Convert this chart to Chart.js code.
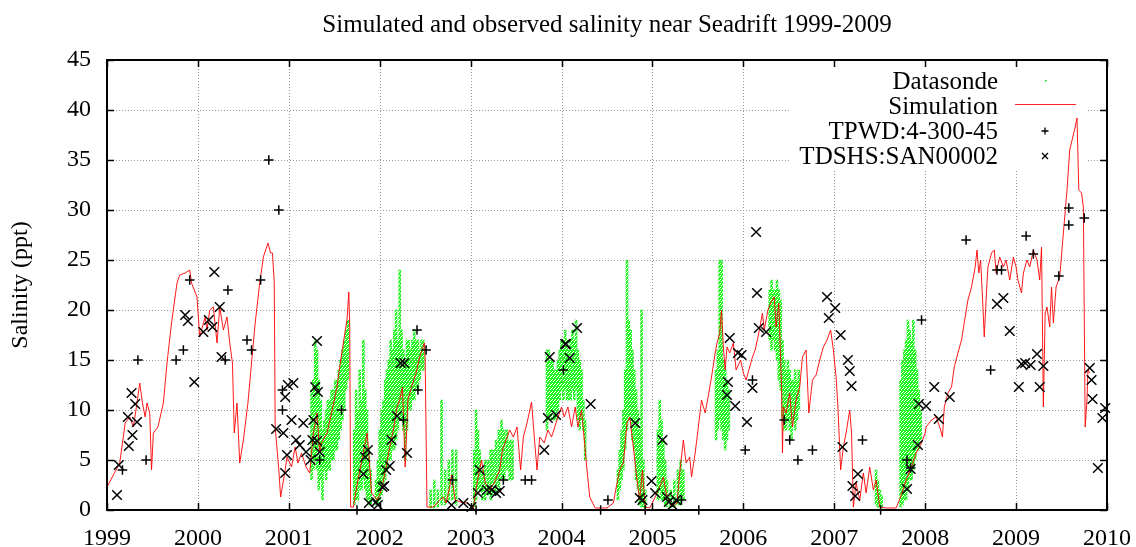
<!DOCTYPE html>
<html>
<head>
<meta charset="utf-8">
<script src="https://cdn.jsdelivr.net/npm/chart.js@4.4.1/dist/chart.umd.min.js"></script>
<style>
  html, body { margin: 0; padding: 0; background: #fff; }
  #wrap { width: 1136px; height: 547px; }
</style>
</head>
<body>
<div id="wrap"><canvas id="c" width="1136" height="547"></canvas></div>
<script>
// ---- Salinity near Seadrift, 1999-2009 (ppt) ----

const yearTicks = [1999, 2000, 2001, 2002, 2003, 2004, 2005, 2006, 2007, 2008, 2009, 2010];
const salinityTicks = [0, 5, 10, 15, 20, 25, 30, 35, 40, 45];

// Model output (decimal year, salinity)
const simYear = [
  1999.00, 1999.07, 1999.14, 1999.20, 1999.25, 1999.29, 1999.33, 1999.36, 1999.39, 1999.42,
  1999.44, 1999.47, 1999.49, 1999.51, 1999.56, 1999.62, 1999.66, 1999.71, 1999.77, 1999.80,
  1999.86, 1999.91, 1999.93, 1999.99, 2000.02, 2000.04, 2000.08, 2000.10, 2000.13, 2000.17,
  2000.21, 2000.24, 2000.28, 2000.32, 2000.35, 2000.38, 2000.40, 2000.43, 2000.46, 2000.50,
  2000.55, 2000.59, 2000.63, 2000.68, 2000.72, 2000.77, 2000.80, 2000.82, 2000.84, 2000.85,
  2000.89, 2000.91, 2000.96, 2000.98, 2001.03, 2001.07, 2001.10, 2001.14, 2001.19, 2001.23,
  2001.27, 2001.31, 2001.34, 2001.36, 2001.42, 2001.47, 2001.53, 2001.56, 2001.60, 2001.64,
  2001.66, 2001.67, 2001.68, 2001.71, 2001.76, 2001.82, 2001.86, 2001.88, 2001.91, 2001.97,
  2002.02, 2002.07, 2002.11, 2002.15, 2002.19, 2002.22, 2002.25, 2002.28, 2002.31, 2002.35,
  2002.40, 2002.44, 2002.49, 2002.50, 2002.52, 2002.59, 2002.66, 2002.70, 2002.73, 2002.77,
  2002.79, 2002.83, 2002.92, 2002.97, 2003.03, 2003.07, 2003.12, 2003.16, 2003.21, 2003.26,
  2003.32, 2003.35, 2003.39, 2003.43, 2003.47, 2003.51, 2003.55, 2003.58, 2003.62, 2003.67,
  2003.70, 2003.73, 2003.76, 2003.81, 2003.85, 2003.89, 2003.95, 2004.00, 2004.03, 2004.07,
  2004.11, 2004.15, 2004.18, 2004.22, 2004.24, 2004.28, 2004.31, 2004.37, 2004.50, 2004.57,
  2004.61, 2004.64, 2004.68, 2004.72, 2004.75, 2004.79, 2004.83, 2004.86, 2004.89, 2004.92,
  2004.97, 2005.03, 2005.08, 2005.12, 2005.15, 2005.21, 2005.27, 2005.30, 2005.34, 2005.37,
  2005.41, 2005.43, 2005.47, 2005.51, 2005.54, 2005.58, 2005.62, 2005.65, 2005.69, 2005.71,
  2005.74, 2005.76, 2005.78, 2005.80, 2005.82, 2005.85, 2005.89, 2005.92, 2005.97, 2006.00,
  2006.03, 2006.06, 2006.10, 2006.13, 2006.17, 2006.21, 2006.23, 2006.27, 2006.30, 2006.34,
  2006.36, 2006.39, 2006.42, 2006.43, 2006.44, 2006.47, 2006.51, 2006.54, 2006.58, 2006.62,
  2006.65, 2006.69, 2006.72, 2006.76, 2006.80, 2006.84, 2006.88, 2006.92, 2006.96, 2006.99,
  2007.02, 2007.04, 2007.07, 2007.10, 2007.13, 2007.17, 2007.19, 2007.21, 2007.24, 2007.28,
  2007.32, 2007.35, 2007.39, 2007.43, 2007.46, 2007.50, 2007.57, 2007.68, 2007.73, 2007.79,
  2007.85, 2007.90, 2007.96, 2008.00, 2008.01, 2008.07, 2008.12, 2008.16, 2008.19, 2008.21,
  2008.25, 2008.29, 2008.32, 2008.36, 2008.40, 2008.44, 2008.47, 2008.51, 2008.55, 2008.57,
  2008.59, 2008.61, 2008.63, 2008.65, 2008.67, 2008.69, 2008.73, 2008.76, 2008.78, 2008.82,
  2008.86, 2008.89, 2008.93, 2008.97, 2009.00, 2009.02, 2009.06, 2009.08, 2009.12, 2009.15,
  2009.19, 2009.23, 2009.26, 2009.28, 2009.30, 2009.32, 2009.34, 2009.37, 2009.39, 2009.41,
  2009.44, 2009.48, 2009.52, 2009.56, 2009.59, 2009.65, 2009.67, 2009.69, 2009.72, 2009.74,
  2009.76, 2009.78, 2009.79, 2009.81
];
const simSalinity = [
  2.3, 3.5, 4.7, 8.7, 9.3, 8.3, 10.7, 12.7, 10.7, 9.3,
  10.7, 9.7, 4.0, 7.7, 8.3, 10.7, 14.7, 18.7, 22.7, 23.5,
  23.7, 24.0, 22.7, 21.3, 17.3, 18.0, 19.3, 18.0, 20.0, 20.3,
  16.7, 20.3, 18.0, 19.3, 16.7, 14.7, 7.7, 10.7, 4.7, 7.0,
  10.7, 14.7, 18.7, 22.7, 25.3, 26.7, 25.7, 25.7, 22.7, 8.3,
  4.0, 1.3, 4.0, 5.3, 4.3, 6.3, 4.7, 5.7, 4.3, 3.7,
  7.7, 9.7, 5.7, 6.7, 7.7, 9.7, 12.3, 14.3, 16.7, 19.0,
  21.8, 18.3, 0.3, 0.3, 3.0, 5.7, 7.7, 5.7, 1.7, 1.0,
  2.0, 4.3, 6.3, 8.0, 10.3, 11.0, 12.3, 4.3, 11.0, 12.3,
  13.7, 15.3, 16.7, 15.0, 0.3, 0.3, 1.0, 1.3, 0.7, 2.3,
  3.5, 1.0, 0.7, 0.7, 0.2, 2.7, 5.0, 2.7, 2.0, 2.7,
  4.0, 6.0, 7.0, 8.0, 7.3, 8.3, 4.0, 7.3, 8.7, 10.8,
  7.3, 4.0, 7.3, 6.7, 8.0, 7.3, 9.0, 10.3, 9.3, 10.3,
  8.3, 10.3, 8.3, 10.0, 8.0, 4.0, 1.3, 0.2, 0.2, 0.7,
  2.7, 4.0, 4.7, 8.7, 9.3, 6.3, 3.0, 1.0, 4.0, 0.3,
  0.2, 1.3, 2.3, 3.3, 1.7, 0.3, 0.7, 3.7, 7.0, 4.7,
  5.3, 3.3, 5.7, 8.7, 11.0, 9.7, 11.7, 13.3, 15.7, 16.7,
  17.7, 20.0, 16.3, 14.0, 16.3, 15.7, 16.7, 14.0, 15.0, 13.7,
  13.0, 14.0, 15.3, 16.0, 17.7, 19.7, 18.0, 20.0, 20.7, 21.3,
  18.3, 20.7, 12.3, 5.7, 10.3, 9.7, 11.7, 8.3, 11.0, 12.3,
  15.3, 16.0, 9.7, 13.0, 13.5, 15.0, 16.3, 17.0, 18.0, 16.0,
  13.3, 10.3, 4.0, 6.3, 7.7, 10.0, 7.7, 0.3, 2.7, 1.0,
  3.7, 1.7, 4.3, 2.0, 3.0, 0.3, 0.2, 0.2, 1.3, 3.0,
  4.3, 5.7, 6.7, 7.7, 8.3, 9.0, 9.3, 8.3, 7.3, 10.3,
  11.7, 12.3, 14.3, 15.7, 17.0, 19.3, 21.0, 22.3, 24.3, 26.0,
  23.7, 25.0, 21.3, 17.3, 21.0, 24.3, 25.7, 26.0, 23.7, 25.3,
  24.3, 25.0, 23.0, 25.3, 24.3, 23.0, 21.7, 23.7, 25.0, 24.3,
  26.0, 25.0, 23.0, 26.3, 10.3, 19.7, 20.3, 18.3, 22.3, 18.7,
  22.3, 23.3, 27.7, 32.0, 36.0, 38.3, 39.2, 32.0, 31.7, 30.3,
  8.3, 11.0, 14.0, 13.7
];

// Datasonde readings: spread of the logged values in each short interval
const sondeYear = [
  2001.25, 2001.27, 2001.29, 2001.31, 2001.33, 2001.35, 2001.37, 2001.39, 2001.41, 2001.43,
  2001.45, 2001.47, 2001.49, 2001.51, 2001.53, 2001.55, 2001.57, 2001.59, 2001.61, 2001.63,
  2001.65, 2001.72, 2001.74, 2001.76, 2001.78, 2001.80, 2001.82, 2001.84, 2001.86, 2001.88,
  2001.90, 2001.96, 2001.98, 2002.00, 2002.02, 2002.04, 2002.06, 2002.08, 2002.10, 2002.12,
  2002.14, 2002.16, 2002.18, 2002.20, 2002.22, 2002.24, 2002.26, 2002.28, 2002.30, 2002.32,
  2002.34, 2002.36, 2002.38, 2002.40, 2002.42, 2002.44, 2002.46, 2002.48, 2002.56, 2002.60,
  2002.64, 2002.68, 2002.72, 2002.76, 2002.80, 2002.84, 2003.04, 2003.06, 2003.08, 2003.10,
  2003.13, 2003.16, 2003.19, 2003.22, 2003.25, 2003.28, 2003.31, 2003.34, 2003.37, 2003.40,
  2003.43, 2003.46, 2003.84, 2003.86, 2003.88, 2003.90, 2003.92, 2003.94, 2003.96, 2003.98,
  2004.00, 2004.02, 2004.04, 2004.06, 2004.08, 2004.10, 2004.12, 2004.14, 2004.16, 2004.18,
  2004.20, 2004.22, 2004.24, 2004.26, 2004.62, 2004.64, 2004.66, 2004.68, 2004.70, 2004.72,
  2004.74, 2004.76, 2004.78, 2004.80, 2004.82, 2004.84, 2004.86, 2004.88, 2004.90, 2004.92,
  2005.06, 2005.08, 2005.10, 2005.12, 2005.14, 2005.16, 2005.20, 2005.24, 2005.28, 2005.31,
  2005.34, 2005.70, 2005.72, 2005.74, 2005.76, 2005.78, 2005.80, 2005.82, 2005.84, 2006.29,
  2006.31, 2006.33, 2006.35, 2006.37, 2006.39, 2006.41, 2006.43, 2006.45, 2006.47, 2006.49,
  2006.51, 2006.53, 2006.55, 2006.57, 2006.59, 2006.61, 2007.46, 2007.48, 2007.50, 2007.52,
  2007.73, 2007.75, 2007.77, 2007.79, 2007.81, 2007.83, 2007.85, 2007.87, 2007.89, 2007.91,
  2007.93, 2007.95
];
const sondeLow = [
  3, 4, 5, 4, 2, 3, 1, 4, 3, 4,
  4, 5, 5, 6, 6, 7, 8, 9, 10, 12,
  13, 0.5, 1, 1, 2, 2, 3, 2, 1, 0.5,
  0.5, 0.5, 0.5, 1, 1.5, 2, 3, 4, 5, 5,
  6, 6, 7, 8, 9, 9, 8, 5, 8, 10,
  10, 11, 11, 12, 12, 13, 14, 14, 0.2, 0.2,
  0.3, 0.5, 0.5, 1, 1, 0.5, 0.3, 1, 2, 2,
  1, 1, 1.5, 1, 1.5, 1.5, 2, 3, 3, 4,
  3, 3, 8, 9, 9, 10, 9, 9, 10, 11,
  12, 11, 12, 11, 11, 11, 12, 11, 12, 9,
  8, 9, 8, 5, 1, 2, 3, 4, 6, 8,
  9, 9, 7, 6, 3, 2, 0.5, 0.3, 0.3, 0.2,
  1, 2, 1, 1, 0.5, 0.3, 0.2, 0.3, 0.5, 0.5,
  1, 7, 8, 9, 8, 7, 6, 7, 8, 17,
  16, 17, 16, 15, 13, 12, 9, 8, 8, 9,
  8, 7, 9, 8, 9, 10, 0.5, 0.3, 0.2, 0.2,
  0.3, 0.5, 1, 1, 2, 3, 3, 4, 5, 6,
  6, 7
];
const sondeHigh = [
  12, 13, 17, 16, 13, 11, 8, 9, 10, 11,
  11, 12, 12, 13, 13, 14, 15, 16, 17, 18,
  19, 8, 12, 10, 14, 11, 17, 12, 10, 6,
  4, 3, 5, 8, 10, 11, 13, 14, 15, 17,
  16, 18, 20, 17, 24, 18, 16, 15, 17, 17,
  16, 17, 18, 17, 17, 16, 17, 17, 2, 3,
  2, 11, 4, 5, 6, 6, 6, 10, 8, 6,
  4, 5, 5, 6, 6, 7, 8, 9, 8, 8,
  7, 7, 16, 16, 15, 15, 14, 14, 15, 16,
  17, 17, 18, 17, 16, 17, 18, 17, 19, 16,
  15, 14, 11, 9, 4, 6, 8, 10, 14, 25,
  19, 18, 16, 14, 12, 10, 8, 20, 5, 2,
  8, 11, 9, 7, 5, 3, 2, 3, 4, 5,
  4, 14, 16, 25, 25, 15, 14, 13, 12, 22,
  23, 22, 22, 23, 22, 21, 17, 15, 14, 15,
  14, 13, 13, 14, 13, 14, 4, 3, 2, 1.5,
  13, 15, 16, 17, 19, 18, 17, 19, 16, 14,
  12, 10
];

// TPWD station 4-300-45 grab samples
const tpwdYear = [
  1999.17, 1999.34, 1999.43, 1999.76, 1999.84, 1999.91, 2000.30, 2000.33, 2000.54, 2000.59,
  2000.69, 2000.78, 2000.89, 2000.93, 2000.93, 2001.34, 2001.58, 2001.75, 2002.26, 2002.41,
  2002.42, 2002.51, 2002.80, 2003.06, 2003.36, 2003.60, 2003.67, 2004.02, 2004.43, 2004.51,
  2004.92, 2005.32, 2005.51, 2006.02, 2006.10, 2006.45, 2006.51, 2006.60, 2006.76, 2007.31,
  2007.51, 2007.80, 2007.84, 2007.96, 2008.45, 2008.72, 2008.79, 2008.84, 2009.11, 2009.19,
  2009.47, 2009.58, 2009.58, 2009.75
];
const tpwdSalinity = [
  4, 15, 5, 15, 16, 23, 15, 22, 17, 16,
  23, 35, 30, 12, 10, 5, 10, 0, 9, 18,
  12, 16, 3, 0, 3, 3, 3, 14, 0, 1,
  0, 1, 0, 6, 13, 9, 7, 5, 6, 7,
  0, 5, 4.2, 19, 27, 14, 24, 24, 27.4, 25.6,
  23.4, 30.2, 28.5, 29.2
];

// TDSHS station SAN00002 samples
const tdshsYear = [
  1999.11, 1999.13, 1999.23, 1999.24, 1999.27, 1999.28, 1999.31, 1999.33, 1999.86, 1999.89,
  1999.96, 2000.06, 2000.12, 2000.16, 2000.18, 2000.24, 2000.26, 2000.86, 2000.94, 2000.96,
  2000.96, 2000.98, 2000.99, 2001.03, 2001.05, 2001.08, 2001.12, 2001.16, 2001.19, 2001.24,
  2001.26, 2001.27, 2001.29, 2001.31, 2001.31, 2001.32, 2001.34, 2001.82, 2001.84, 2001.87,
  2001.88, 2001.96, 2001.98, 2002.03, 2002.05, 2002.07, 2002.11, 2002.13, 2002.19, 2002.23,
  2002.27, 2002.30, 2002.79, 2002.92, 2003.01, 2003.08, 2003.10, 2003.18, 2003.23, 2003.28,
  2003.32, 2003.81, 2003.85, 2003.87, 2003.94, 2004.04, 2004.05, 2004.09, 2004.17, 2004.32,
  2004.81, 2004.86, 2004.89, 2004.99, 2005.03, 2005.11, 2005.16, 2005.18, 2005.22, 2005.26,
  2005.82, 2005.83, 2005.85, 2005.91, 2005.94, 2005.98, 2006.04, 2006.10, 2006.14, 2006.15,
  2006.17, 2006.25, 2006.92, 2006.94, 2007.01, 2007.07, 2007.09, 2007.15, 2007.17, 2007.19,
  2007.20, 2007.23, 2007.26, 2007.80, 2007.84, 2007.92, 2007.93, 2008.01, 2008.10, 2008.15,
  2008.27, 2008.79, 2008.86, 2008.93, 2009.03, 2009.06, 2009.10, 2009.16, 2009.23, 2009.26,
  2009.30, 2009.81, 2009.83, 2009.84, 2009.90, 2009.95, 2009.98
];
const tdshsSalinity = [
  1.5, 4.5, 9.3, 6.4, 11.7, 7.5, 10.6, 8.8, 19.5, 18.9,
  12.8, 17.8, 19.0, 18.3, 23.8, 20.3, 15.3, 8.1, 7.7, 11.3,
  3.7, 5.5, 12.5, 9.0, 12.7, 7.0, 6.5, 8.7, 5.8, 5.0,
  7.0, 9.0, 12.3, 16.9, 6.9, 11.8, 5.8, 3.6, 5.3, 6.0,
  0.7, 0.8, 0.5, 2.3, 2.4, 4.0, 4.4, 7.0, 9.4, 14.7,
  14.7, 5.7, 0.5, 0.7, 0.3, 1.7, 4.0, 2.0, 2.0, 1.7,
  1.9, 6.0, 9.2, 15.3, 9.5, 16.6, 16.6, 15.2, 18.2, 10.6,
  8.7, 1.2, 1.0, 2.9, 1.7, 7.0, 1.3, 0.8, 0.5, 1.0,
  11.5, 12.8, 17.2, 10.4, 15.7, 15.5, 8.8, 12.2, 27.8, 21.7,
  18.2, 17.8, 21.3, 19.2, 20.2, 17.5, 6.3, 15.0, 13.9, 12.4,
  2.4, 1.4, 3.6, 2.1, 4.1, 6.5, 10.6, 10.4, 12.3, 9.1,
  11.3, 20.6, 21.2, 17.9, 12.3, 14.6, 14.7, 14.5, 15.6, 12.3,
  14.4, 14.2, 13.0, 11.1, 4.2, 9.2, 10.2
];

const SERIF = "'Liberation Serif', 'DejaVu Serif', serif";
const pairs = (xs, ys) => xs.map((x, i) => ({ x, y: ys[i] }));

// Region of the key, kept clear of grid lines
const KEY = { left: 790, top: 61, right: 1088, bottom: 170 };

// Speckled green fill for the datasonde point clouds
function speckle() {
  const t = document.createElement('canvas');
  t.width = 3; t.height = 4;
  const g = t.getContext('2d');
  g.fillStyle = '#22f522';
  [[0, 0], [1, 0], [2, 1], [0, 1], [0, 2], [1, 2], [2, 2], [1, 3], [2, 3]].forEach(([x, y]) => g.fillRect(x, y, 1, 1));
  return g.createPattern(t, 'repeat');
}

const gnuplotFrame = {
  id: 'gnuplotFrame',
  beforeDatasetsDraw(chart) {
    const { ctx, chartArea: a, scales } = chart;
    const sx = scales.x, sy = scales.y;
    ctx.save();
    // dotted grid
    ctx.strokeStyle = '#9a9a9a';
    ctx.lineWidth = 1;
    ctx.setLineDash([1, 2]);
    ctx.beginPath();
    yearTicks.slice(1, -1).forEach(v => {
      const px = Math.round(sx.getPixelForValue(v)) + 0.5;
      ctx.moveTo(px, a.top); ctx.lineTo(px, a.bottom);
    });
    salinityTicks.slice(1, -1).forEach(v => {
      const py = Math.round(sy.getPixelForValue(v)) + 0.5;
      ctx.moveTo(a.left, py); ctx.lineTo(a.right, py);
    });
    ctx.stroke();
    ctx.setLineDash([]);
    // key area stays clear of the grid
    ctx.fillStyle = '#ffffff';
    ctx.fillRect(KEY.left, KEY.top, KEY.right - KEY.left, KEY.bottom - KEY.top);
    ctx.restore();
  },
  afterDraw(chart) {
    const { ctx, chartArea: a, scales } = chart;
    const sx = scales.x, sy = scales.y;
    ctx.save();
    ctx.strokeStyle = '#000';
    // inward tics on all four sides
    ctx.lineWidth = 1.5;
    const tl = 7;
    ctx.beginPath();
    yearTicks.forEach(v => {
      const px = Math.round(sx.getPixelForValue(v)) + 0.5;
      ctx.moveTo(px, a.bottom); ctx.lineTo(px, a.bottom - tl);
      ctx.moveTo(px, a.top); ctx.lineTo(px, a.top + tl);
    });
    salinityTicks.forEach(v => {
      const py = Math.round(sy.getPixelForValue(v)) + 0.5;
      ctx.moveTo(a.left, py); ctx.lineTo(a.left + tl, py);
      ctx.moveTo(a.right, py); ctx.lineTo(a.right - tl, py);
    });
    ctx.stroke();
    // border
    ctx.lineWidth = 2;
    ctx.strokeRect(a.left, a.top, a.right - a.left, a.bottom - a.top);

    // title
    ctx.fillStyle = '#000';
    ctx.font = '25px ' + SERIF;
    ctx.textAlign = 'center';
    ctx.textBaseline = 'alphabetic';
    ctx.fillText('Simulated and observed salinity near Seadrift 1999-2009', (a.left + a.right) / 2, 32);

    // y axis title
    ctx.save();
    ctx.translate(21, (a.top + a.bottom) / 2);
    ctx.rotate(-Math.PI / 2);
    ctx.textBaseline = 'middle';
    ctx.textAlign = 'center';
    ctx.font = '24px ' + SERIF;
    ctx.fillText('Salinity (ppt)', 0, 0);
    ctx.restore();

    // key
    const rows = [81, 106, 131, 156];
    const textRight = 998, sampleX = 1045;
    ctx.font = '25px ' + SERIF;
    ctx.textAlign = 'right';
    ctx.textBaseline = 'middle';
    chart.data.datasets.forEach((ds, i) => {
      const y = rows[i];
      ctx.fillStyle = '#000';
      ctx.fillText(ds.label, textRight, y + 1);
      if (i === 0) {
        ctx.fillStyle = '#00e000';
        ctx.fillRect(sampleX, y - 1, 1.5, 1.5);
      } else if (i === 1) {
        ctx.strokeStyle = 'rgba(255,0,0,0.85)';
        ctx.lineWidth = 1;
        ctx.beginPath(); ctx.moveTo(1015, y - 1.5); ctx.lineTo(1076, y - 1.5); ctx.stroke();
      } else if (i === 2) {
        ctx.strokeStyle = '#000'; ctx.lineWidth = 1.3;
        ctx.beginPath();
        ctx.moveTo(sampleX - 3.5, y); ctx.lineTo(sampleX + 3.5, y);
        ctx.moveTo(sampleX, y - 3.5); ctx.lineTo(sampleX, y + 3.5);
        ctx.stroke();
      } else {
        ctx.strokeStyle = '#000'; ctx.lineWidth = 1.3;
        ctx.beginPath();
        ctx.moveTo(sampleX - 3, y - 3); ctx.lineTo(sampleX + 3, y + 3);
        ctx.moveTo(sampleX - 3, y + 3); ctx.lineTo(sampleX + 3, y - 3);
        ctx.stroke();
      }
    });
    ctx.restore();
  }
};

new Chart(document.getElementById('c'), {
  type: 'scatter',
  data: {
    datasets: [
      {
        type: 'bar',
        label: 'Datasonde',
        data: sondeYear.map((x, i) => ({ x, y: [sondeLow[i], sondeHigh[i]] })),
        backgroundColor: speckle(),
        borderWidth: 0,
        barThickness: 2,
        grouped: false,
        order: 4
      },
      {
        type: 'line',
        label: 'Simulation',
        data: pairs(simYear, simSalinity),
        borderColor: 'rgba(255,0,0,0.9)',
        borderWidth: 1,
        pointRadius: 0,
        tension: 0,
        fill: false,
        order: 3
      },
      {
        label: 'TPWD:4-300-45',
        data: pairs(tpwdYear, tpwdSalinity),
        pointStyle: 'cross',
        pointRadius: 4.8,
        borderColor: '#000',
        backgroundColor: '#000',
        borderWidth: 1.5,
        clip: 10,
        order: 2
      },
      {
        label: 'TDSHS:SAN00002',
        data: pairs(tdshsYear, tdshsSalinity),
        pointStyle: 'crossRot',
        pointRadius: 6.8,
        borderColor: '#000',
        backgroundColor: '#000',
        borderWidth: 1.5,
        clip: 10,
        order: 1
      }
    ]
  },
  options: {
    responsive: false,
    animation: false,
    devicePixelRatio: 1,
    layout: { padding: { left: 0, right: 29, top: 60, bottom: 0 } },
    plugins: { legend: { display: false }, tooltip: { enabled: false }, title: { display: false } },
    scales: {
      x: {
        type: 'linear',
        min: 1999, max: 2010,
        offset: false,
        afterFit: s => { s.height = 37; s.paddingLeft = 0; s.paddingRight = 0; },
        afterBuildTicks: s => { s.ticks = yearTicks.map(v => ({ value: v })); },
        ticks: {
          callback: v => String(v),
          color: '#000',
          font: { family: SERIF, size: 24 },
          padding: 14,
          maxRotation: 0,
          autoSkip: false
        },
        grid: { display: false, drawTicks: false },
        border: { display: false }
      },
      y: {
        type: 'linear',
        min: 0, max: 45,
        afterFit: s => { s.width = 107; s.paddingTop = 0; s.paddingBottom = 0; },
        afterBuildTicks: s => { s.ticks = salinityTicks.map(v => ({ value: v })); },
        ticks: {
          callback: v => String(v),
          color: '#000',
          font: { family: SERIF, size: 24 },
          padding: 16
        },
        grid: { display: false, drawTicks: false },
        border: { display: false }
      }
    }
  },
  plugins: [gnuplotFrame]
});
</script>
</body>
</html>
